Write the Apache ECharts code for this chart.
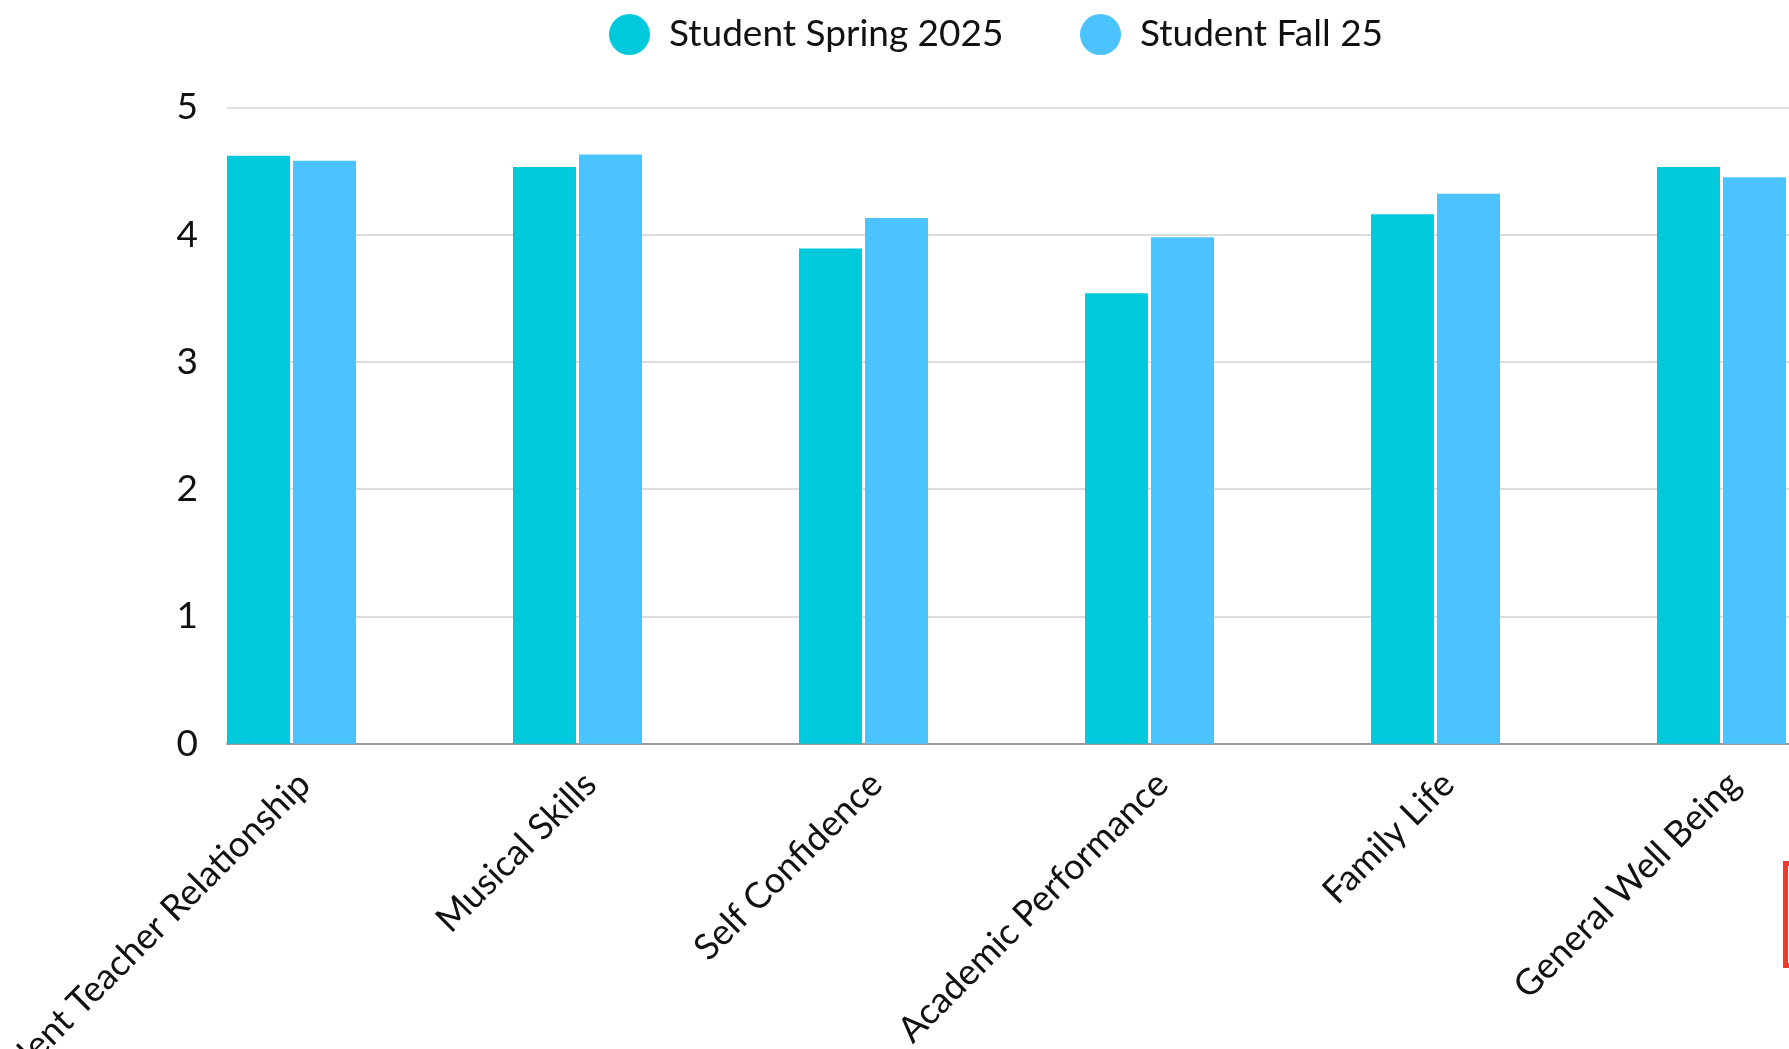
<!DOCTYPE html>
<html>
<head>
<meta charset="utf-8">
<title>Student Survey</title>
<script src="https://cdn.jsdelivr.net/npm/echarts@6/dist/echarts.min.js"></script>
<style>
  html, body { margin: 0; padding: 0; background: #ffffff; }
  #chart { width: 1789px; height: 1049px; }
</style>
</head>
<body>
<div id="chart"></div>
<script>
// Survey categories and average scores per term
const categories = [
  'Student Teacher Relationship',
  'Musical Skills',
  'Self Confidence',
  'Academic Performance',
  'Family Life',
  'General Well Being'
];
const springScores = [4.62, 4.53, 3.89, 3.54, 4.16, 4.53];
const fallScores = [4.58, 4.63, 4.13, 3.98, 4.32, 4.45];
const seriesNames = ['Student Spring 2025', 'Student Fall 25'];
const yTicks = [0, 1, 2, 3, 4, 5];

const FONT = 'Lato, "Noto Sans", sans-serif';
const SPRING_COLOR = '#00c9db';
const FALL_COLOR = '#4ac3ff';

const chart = echarts.init(document.getElementById('chart'));

const legendText = { fontFamily: FONT, fontSize: 37, color: '#111111', padding: [0, 0, 0, 14] };

chart.setOption({
  backgroundColor: '#ffffff',
  animation: false,
  legend: [
    {
      data: [seriesNames[0]], left: 604, top: 9, icon: 'circle',
      itemWidth: 41, itemHeight: 41, textStyle: legendText
    },
    {
      data: [seriesNames[1]], left: 1075, top: 9, icon: 'circle',
      itemWidth: 41, itemHeight: 41, textStyle: legendText
    }
  ],
  grid: [
    // bars: category bands run past the right edge of the page
    { left: 148.5, top: 107.3, right: -75.5, bottom: 1049 - 743.7, outerBoundsMode: 'none', containLabel: false },
    // value scale, gridlines and baseline
    { left: 227, top: 107.3, right: 0, bottom: 1049 - 743.7, outerBoundsMode: 'none', containLabel: false }
  ],
  xAxis: [
    {
      gridIndex: 0, type: 'category', data: categories,
      axisLine: { show: false }, axisTick: { show: false },
      axisLabel: {
        interval: 0, rotate: 45, margin: 22, verticalAlign: 'top',
        fontFamily: FONT, fontSize: 36, color: '#111111'
      }
    },
    {
      gridIndex: 1, type: 'value', min: 0, max: 1,
      axisLine: { show: true, lineStyle: { color: '#9a9a9a', width: 2 } },
      axisTick: { show: false }, axisLabel: { show: false }, splitLine: { show: false }
    }
  ],
  yAxis: [
    {
      gridIndex: 0, type: 'value', min: yTicks[0], max: yTicks[yTicks.length - 1],
      show: false, splitLine: { show: false }
    },
    {
      gridIndex: 1, type: 'value', min: yTicks[0], max: yTicks[yTicks.length - 1], interval: 1,
      axisLine: { show: false }, axisTick: { show: false },
      axisLabel: { margin: 29, fontFamily: FONT, fontSize: 37, color: '#111111' },
      splitLine: { show: true, lineStyle: { color: '#d2d2d2', width: 1.5 } }
    }
  ],
  series: [
    {
      name: seriesNames[0], type: 'bar', xAxisIndex: 0, yAxisIndex: 0,
      data: springScores, barWidth: 63, barGap: '4.8%',
      itemStyle: { color: SPRING_COLOR }
    },
    {
      name: seriesNames[1], type: 'bar', xAxisIndex: 0, yAxisIndex: 0,
      data: fallScores, barWidth: 63, barGap: '4.8%',
      itemStyle: { color: FALL_COLOR }
    }
  ],
  graphic: [
    {
      type: 'rect', left: 1783, top: 861,
      shape: { x: 0, y: 0, width: 100, height: 102 },
      style: { fill: 'rgba(0,0,0,0)', stroke: '#ec3b2c', lineWidth: 5 }
    }
  ]
});
</script>
</body>
</html>
